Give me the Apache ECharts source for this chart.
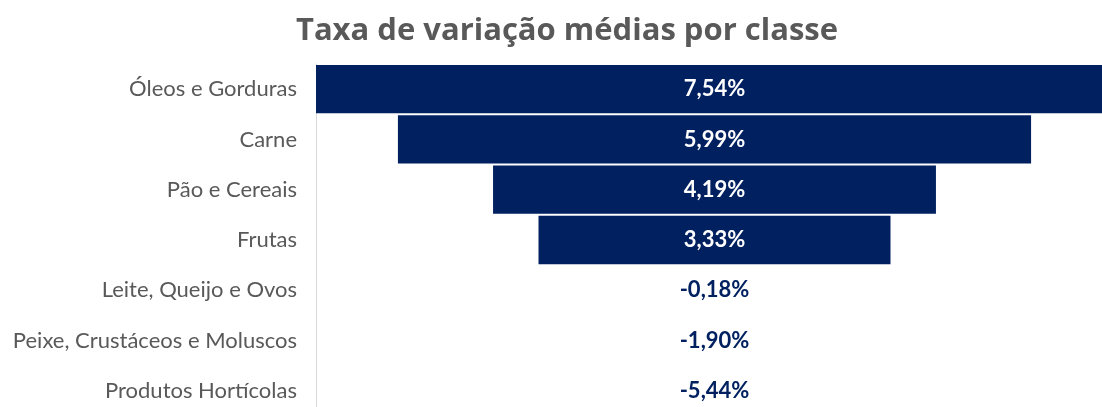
<!DOCTYPE html>
<html>
<head>
<meta charset="utf-8">
<script src="https://cdn.jsdelivr.net/npm/echarts@6/dist/echarts.min.js"></script>
<style>
  html, body { margin: 0; padding: 0; background: #fff; }
  #chart { width: 1102px; height: 407px; }
</style>
</head>
<body>
<div id="chart"></div>
<script>
// dados
const categories = [
  'Óleos e Gorduras',
  'Carne',
  'Pão e Cereais',
  'Frutas',
  'Leite, Queijo e Ovos',
  'Peixe, Crustáceos e Moluscos',
  'Produtos Hortícolas'
]
const values = [7.54, 5.99, 4.19, 3.33, -0.18, -1.9, -5.44]

const maxVal = Math.max(...values)
const navy = '#002060'

// espaço invisível à esquerda para centrar as barras
const offsetData = values.map(v => (v > 0 ? (maxVal - v) / 2 : maxVal / 2))
const barData = values.map(v => ({
  value: v > 0 ? v : 0,
  label: { color: v > 0 ? '#ffffff' : navy }
}))

const fmt = v => v.toFixed(2).replace('.', ',') + '%'

const chart = echarts.init(document.getElementById('chart'))
chart.setOption({
  animation: false,
  title: {
    text: 'Taxa de variação médias por classe',
    left: 562,
    textAlign: 'center',
    top: 11,
    textStyle: {
      fontFamily: 'Open Sans',
      fontWeight: 'bold',
      fontSize: 31,
      color: '#595959'
    }
  },
  grid: {
    left: 316,
    top: 64,
    width: 797,
    height: 352,
    outerBoundsMode: 'none'
  },
  xAxis: {
    type: 'value',
    min: 0,
    max: maxVal,
    show: false
  },
  yAxis: {
    type: 'category',
    data: categories,
    inverse: true,
    axisLine: { show: true, lineStyle: { color: '#d9d9d9', width: 1 } },
    axisTick: { show: false },
    axisLabel: {
      margin: 19,
      fontFamily: 'Lato',
      fontSize: 22,
      color: '#595959'
    }
  },
  series: [
    {
      type: 'bar',
      stack: 'f',
      data: offsetData,
      itemStyle: { color: 'transparent' },
      barCategoryGap: '4%',
      silent: true
    },
    {
      type: 'bar',
      stack: 'f',
      data: barData,
      itemStyle: { color: navy },
      barCategoryGap: '4%',
      label: {
        show: true,
        position: 'inside',
        fontFamily: 'Lato',
        fontWeight: 'bold',
        fontSize: 22,
        formatter: p => fmt(values[p.dataIndex])
      }
    }
  ]
})
</script>
</body>
</html>
